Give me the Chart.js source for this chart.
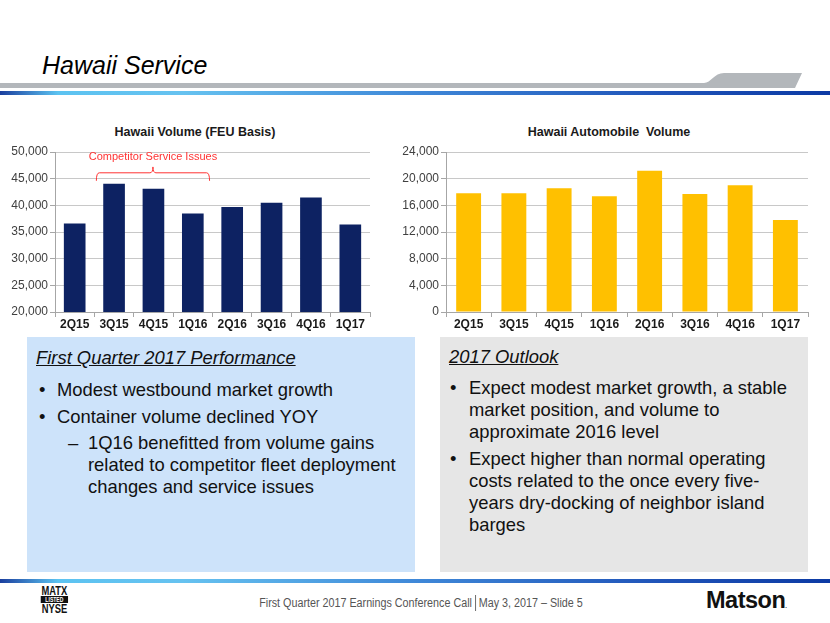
<!DOCTYPE html>
<html lang="en">
<head>
  <meta charset="UTF-8">
  <title>Hawaii Service</title>
  <script src="https://cdn.jsdelivr.net/npm/chart.js"></script>
  <style>
    body { margin: 0; width: 830px; height: 623px; position: relative; overflow: hidden; background: #fff;
           font-family: "Liberation Sans", Arial, sans-serif; color: #111; }
    .abs { position: absolute; white-space: nowrap; }
    .slide-title { left: 42px; top: 50px; font-size: 25px; line-height: 30px; font-style: italic; color: #000; }
    .chart-title { top: 124px; width: 300px; text-align: center; font-size: 12.5px; line-height: 16px; font-weight: bold; color: #1a1a1a; }
    .panel { position: absolute; top: 337px; height: 235px; }
    .panel-left { left: 27px; width: 388px; background: #CDE3FA; }
    .panel-right { left: 440px; width: 368px; background: #E6E6E6; }
    .txt { font-size: 18.4px; line-height: 22px; }
    .head { font-style: italic; text-decoration: underline; }
    .footer-text { left: 6px; width: 830px; text-align: center; top: 595px; font-size: 12.5px; line-height: 16px; color: #555;
                   transform: scaleX(0.86); transform-origin: 415px 0; }
    .sep { display: inline-block; width: 0; height: 16px; border-left: 1px solid #555; vertical-align: -4px; margin: 0 3px 0 4px; }
    .nyse { left: 37px; top: 586px; width: 35px; font-weight: bold; font-size: 12px; line-height: 10px; color: #111;
            text-align: center; transform: scaleX(0.78); transform-origin: 17px 0; }
    .nyse .listed { display: block; background: #111; color: #fff; font-size: 6.5px; line-height: 7px; margin: 0 0 1px; }
    .matson { left: 706px; top: 589px; font-size: 23.5px; line-height: 23px; font-weight: bold; letter-spacing: -0.5px; color: #111; }
    canvas { position: absolute; }
  </style>
</head>
<body>
  <svg class="abs" width="830" height="623" style="left:0;top:0">
    <defs>
      <linearGradient id="blueLine" x1="0" x2="830" y1="0" y2="0" gradientUnits="userSpaceOnUse">
        <stop offset="0" stop-color="#1B3F9E"/>
        <stop offset="0.07" stop-color="#5CC3F1"/>
        <stop offset="0.22" stop-color="#66C2F0"/>
        <stop offset="0.5" stop-color="#3F88D8"/>
        <stop offset="0.8" stop-color="#1F53B8"/>
        <stop offset="1" stop-color="#0C3AA4"/>
      </linearGradient>
    </defs>
    <path d="M0 83 H704 C711 83 714 73 724 73 H802 L795 88 H0 Z" fill="#B3B7BB"/>
    <rect x="0" y="91" width="830" height="4" fill="url(#blueLine)"/>
    <rect x="0" y="579" width="830" height="4" fill="url(#blueLine)"/>
  </svg>

  <div class="abs slide-title">Hawaii Service</div>

  <div class="abs chart-title" style="left:45px">Hawaii Volume (FEU Basis)</div>
  <div class="abs chart-title" style="left:459px">Hawaii Automobile&nbsp; Volume</div>
  <canvas id="feuChart" width="395" height="215" style="left:0;top:120px"></canvas>
  <canvas id="autoChart" width="435" height="215" style="left:395px;top:120px"></canvas>

  <div class="panel panel-left"></div>
  <div class="panel panel-right"></div>

  <div class="abs txt head" style="left:36px;top:347px">First Quarter 2017 Performance</div>
  <div class="abs txt" style="left:39px;top:379px">•</div>
  <div class="abs txt" style="left:57px;top:379px">Modest westbound market growth</div>
  <div class="abs txt" style="left:39px;top:406px">•</div>
  <div class="abs txt" style="left:57px;top:406px">Container volume declined YOY</div>
  <div class="abs txt" style="left:68px;top:432px">–</div>
  <div class="abs txt" style="left:88px;top:432px">1Q16 benefitted from volume gains<br>related to competitor fleet deployment<br>changes and service issues</div>

  <div class="abs txt head" style="left:449px;top:346px">2017 Outlook</div>
  <div class="abs txt" style="left:450px;top:377px">•</div>
  <div class="abs txt" style="left:469px;top:377px">Expect modest market growth, a stable<br>market position, and volume to<br>approximate 2016 level</div>
  <div class="abs txt" style="left:450px;top:448px">•</div>
  <div class="abs txt" style="left:469px;top:448px">Expect higher than normal operating<br>costs related to the once every five-<br>years dry-docking of neighbor island<br>barges</div>

  <div class="abs nyse">MATX<span class="listed">LISTED</span>NYSE</div>
  <div class="abs footer-text">First Quarter 2017 Earnings Conference Call<span class="sep"></span>May 3, 2017 – Slide 5</div>
  <div class="abs matson">Matson<span style="font-size:6px">.</span></div>

  <script>
    // data
    const quarters = ['2Q15', '3Q15', '4Q15', '1Q16', '2Q16', '3Q16', '4Q16', '1Q17'];
    const feuVolume = [36600, 44050, 43100, 38450, 39700, 40500, 41450, 36400];
    const autoVolume = [17800, 17800, 18550, 17350, 21200, 17700, 19000, 13800];

    const feuAxis = [20000, 50000, 5000];   // min, max, step
    const autoAxis = [0, 24000, 4000];

    const bracketLabel = 'Competitor Service Issues';
    const bracketFrom = '3Q15';
    const bracketTo = '1Q16';
    const bracketLevels = [49000, 47200, 46100, 44600]; // label, tip, line, ends

    const fmt = v => v.toLocaleString('en-US');

    // red bracket over the competitor quarters
    const bracketPlugin = {
      id: 'bracket',
      afterDatasetsDraw(chart) {
        const { ctx, scales: { x, y } } = chart;
        const half = x.width / quarters.length / 2;
        const x0 = x.getPixelForValue(quarters.indexOf(bracketFrom)) - half * 0.9;
        const x1 = x.getPixelForValue(quarters.indexOf(bracketTo)) + half * 0.85;
        const xm = (x0 + x1) / 2;
        const [yText, yTip, yLine, yEnd] = bracketLevels.map(v => y.getPixelForValue(v));
        ctx.save();
        ctx.strokeStyle = '#FF3333';
        ctx.lineWidth = 1;
        ctx.beginPath();
        ctx.moveTo(x0, yEnd);
        ctx.quadraticCurveTo(x0, yLine, x0 + 3, yLine);
        ctx.lineTo(xm - 3, yLine);
        ctx.quadraticCurveTo(xm, yLine, xm, yTip);
        ctx.quadraticCurveTo(xm, yLine, xm + 3, yLine);
        ctx.lineTo(x1 - 3, yLine);
        ctx.quadraticCurveTo(x1, yLine, x1, yEnd);
        ctx.stroke();
        ctx.fillStyle = '#FF3333';
        ctx.font = '11px "Liberation Sans", Arial, sans-serif';
        ctx.textAlign = 'center';
        ctx.textBaseline = 'middle';
        ctx.fillText(bracketLabel, xm, yText);
        ctx.restore();
      }
    };

    function barChart(id, values, color, axis, padRight, yWidth, plugins) {
      return new Chart(document.getElementById(id), {
        type: 'bar',
        data: {
          labels: quarters,
          datasets: [{ data: values, backgroundColor: color, barPercentage: 0.55, categoryPercentage: 1 }]
        },
        options: {
          responsive: false,
          animation: false,
          devicePixelRatio: 1,
          layout: { padding: { left: 0, right: padRight, top: 32, bottom: 0 } },
          plugins: {
            legend: { display: false },
            tooltip: { enabled: false },
            title: { display: false }
          },
          scales: {
            x: {
              afterFit: s => { s.height = 23; },
              grid: { display: true, drawOnChartArea: false, tickLength: 5, tickColor: '#A6A6A6' },
              border: { color: '#A6A6A6' },
              ticks: { padding: 0, color: '#1a1a1a', font: { family: '"Liberation Sans", Arial, sans-serif', size: 12, weight: 'bold' } }
            },
            y: {
              min: axis[0],
              max: axis[1],
              afterFit: s => { s.width = yWidth; },
              grid: { color: '#C8C8C8', borderDash: [4, 3], tickLength: 5, tickColor: '#A6A6A6' },
              border: { color: '#A6A6A6' },
              ticks: {
                stepSize: axis[2],
                padding: 2,
                color: '#404040',
                font: { family: '"Liberation Sans", Arial, sans-serif', size: 12 },
                callback: v => fmt(v)
              }
            }
          }
        },
        plugins: plugins
      });
    }

    barChart('feuChart', feuVolume, '#0D2262', feuAxis, 25, 55, [bracketPlugin]);
    barChart('autoChart', autoVolume, '#FFC000', autoAxis, 22, 51, []);
  </script>
</body>
</html>
